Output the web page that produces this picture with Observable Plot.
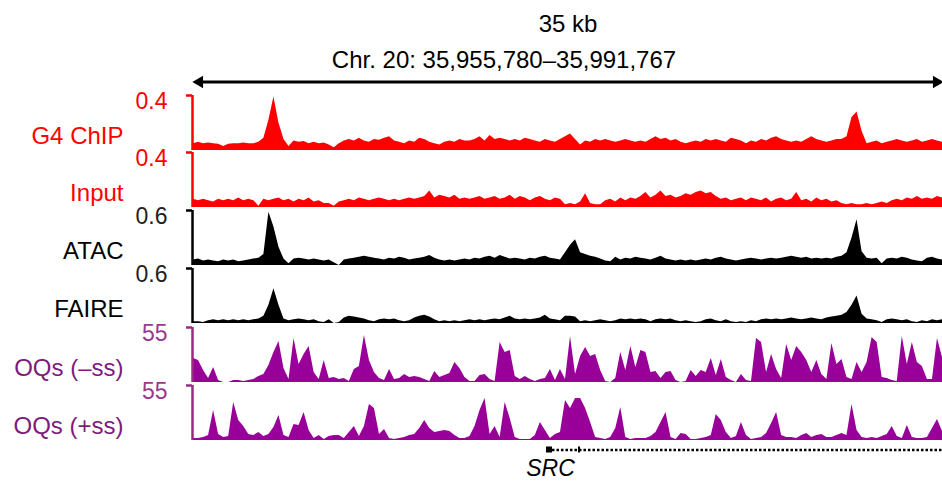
<!DOCTYPE html>
<html><head><meta charset="utf-8">
<script src="https://cdn.jsdelivr.net/npm/d3@7"></script>
<script src="https://cdn.jsdelivr.net/npm/@observablehq/plot@0.6"></script>
<style>
body{margin:0;background:#fff;}
#chart{position:relative;width:942px;height:481px;overflow:hidden;}
#chart svg{position:absolute;left:0;overflow:visible;background:transparent;}
</style></head><body><div id="chart"></div>
<script>
// ---- data ----
const regionStart = 35955780, regionEnd = 35991767;
const regionLabel = "Chr. 20: 35,955,780–35,991,767";
const spanLabel = "35 kb";
const trackNames = ["G4 ChIP", "Input", "ATAC", "FAIRE", "OQs (–ss)", "OQs (+ss)"];
const trackMax = [0.4, 0.4, 0.6, 0.6, 55, 55];
const trackMaxLabels = ["0.4", "0.4", "0.6", "0.6", "55", "55"];

const g4 = [0.05,0.06,0.05,0.055,0.05,0.045,0.03,0.045,0.05,0.05,0.055,0.05,0.05,
0.06,0.09,0.22,0.39,0.2,0.08,0.03,
0.07,0.06,0.065,0.05,0.06,0.05,0.055,0.04,0.02,
0.05,0.07,0.08,0.07,0.09,0.07,0.06,0.08,0.075,0.09,
0.1,0.07,0.06,0.05,0.07,0.06,0.09,0.08,0.06,0.05,0.04,
0.06,0.07,0.06,0.08,0.07,0.07,0.08,0.1,0.07,0.11,0.08,
0.09,0.08,0.07,0.08,0.07,0.09,0.08,0.07,0.06,0.08,0.07,0.06,0.08,
0.1,0.12,0.08,0.04,
0.07,0.06,0.08,0.07,0.08,0.07,0.06,0.07,0.08,0.07,0.06,0.07,0.06,
0.08,0.1,0.08,0.09,0.07,0.08,0.06,0.05,0.06,
0.07,0.06,0.08,0.07,0.08,0.07,0.06,0.09,0.08,0.07,0.05,
0.07,0.06,0.08,0.07,0.09,0.1,0.08,0.07,0.06,0.07,0.06,
0.08,0.1,0.08,0.07,0.06,0.07,0.08,
0.08,0.1,0.24,0.28,0.14,0.05,
0.06,0.07,0.05,0.06,0.07,0.08,0.07,0.06,0.07,0.08,0.06,0.07,0.08,0.07,0.06];

const input = [0.06,0.05,0.06,0.05,0.04,0.06,0.05,0.06,0.05,0.07,0.05,0.06,0.05,
0.01,
0.06,0.05,0.06,0.07,0.05,0.06,0.04,0.06,0.05,0.07,0.04,0.05,0.03,0.03,
0.01,
0.04,0.05,0.06,0.05,0.07,0.06,0.05,0.06,0.07,0.06,0.05,0.06,0.05,0.06,0.07,0.06,0.07,0.08,0.12,0.07,0.09,
0.08,0.07,0.09,0.06,0.07,0.06,0.07,0.08,0.06,0.07,0.08,0.06,0.07,0.09,0.06,0.08,0.07,0.05,0.07,0.08,0.06,0.05,0.07,0.06,
0.02,0.03,0.02,0.04,0.1,0.03,0.02,0.02,
0.05,0.06,0.04,0.07,0.05,0.07,0.06,0.08,0.11,
0.07,0.09,0.12,0.08,0.09,0.07,0.08,0.1,0.09,0.11,
0.12,0.1,0.11,0.08,0.06,0.07,0.05,0.06,0.07,
0.05,0.07,0.06,0.05,0.07,0.04,0.06,0.07,0.05,
0.06,0.11,0.05,0.06,0.04,0.07,
0.05,0.06,0.04,0.05,
0.03,0.02,0.03,0.02,0.02,0.03,0.02,0.03,0.04,
0.03,0.05,0.06,0.05,0.07,0.06,0.08,0.06,0.07,0.06,0.08,0.07];

const atac = [0.06,0.07,0.05,0.06,0.05,0.04,0.06,0.05,0.06,0.04,0.05,0.06,0.07,
0.08,0.12,0.58,0.42,0.2,0.07,0.02,
0.07,0.08,0.07,0.06,0.07,0.06,0.05,0.06,
0.03,0.0,
0.06,0.07,0.08,0.09,0.1,0.09,0.08,0.07,0.06,0.08,0.07,0.09,0.08,0.06,0.07,0.08,0.09,0.11,0.08,0.06,
0.05,0.06,0.05,0.06,0.07,0.06,0.08,0.07,0.09,0.1,0.08,0.11,0.09,0.07,0.08,0.07,0.06,0.08,0.07,0.09,0.1,0.08,0.07,0.06,
0.14,0.22,0.28,0.14,0.12,0.1,0.09,0.07,0.05,0.04,
0.09,0.06,0.08,0.07,0.09,0.08,0.07,0.06,0.08,0.1,0.07,0.06,0.05,0.06,0.05,0.06,
0.05,0.06,0.07,0.06,0.08,0.09,0.07,0.06,0.05,0.06,0.07,0.08,0.07,0.06,0.07,0.08,
0.07,0.08,0.09,0.1,0.09,0.08,0.09,0.07,0.08,0.07,0.08,0.07,
0.09,0.1,0.14,0.3,0.5,0.15,0.08,
0.07,0.08,0.02,0.07,0.08,0.07,0.09,0.08,0.06,0.05,0.04,0.08,0.09,0.07,0.06];

const faire = [0.02,0.02,0.01,0.03,0.04,0.03,0.04,0.03,0.04,0.03,0.04,0.03,0.04,
0.05,0.08,0.2,0.38,0.2,0.05,0.03,
0.04,0.05,0.04,0.03,0.04,0.02,0.01,0.04,
0.0,0.01,
0.06,0.08,0.07,0.06,0.05,0.03,0.02,0.04,0.05,0.04,0.05,0.03,0.02,0.03,0.06,0.08,0.09,0.07,0.04,0.02,
0.03,0.02,0.03,0.02,0.03,0.04,0.03,0.04,0.03,0.04,0.05,0.04,0.06,0.08,0.05,0.04,0.05,0.04,0.05,0.06,0.09,0.05,0.04,0.03,
0.08,0.08,0.07,0.02,0.03,0.02,0.03,0.04,0.03,0.02,0.03,0.05,0.04,0.05,0.04,0.05,0.04,0.02,0.04,0.05,0.04,0.05,0.03,0.02,0.03,0.02,
0.01,0.02,0.04,0.05,0.03,0.02,0.04,0.02,0.01,0.02,0.01,0.03,0.02,0.04,0.05,0.04,0.05,0.04,0.05,0.06,0.05,0.04,0.05,0.06,0.05,0.04,0.06,0.07,0.08,0.09,0.12,0.2,0.3,0.1,0.05,
0.04,0.03,0.01,0.04,0.05,0.04,0.03,0.04,0.02,0.01,0.03,0.02,0.04,0.03,0.04];

const oqsMinus = [24,22,12,4,15,2,0,0,2,2,1,2,3,6,8,17,30,41,14,3,
44,18,28,36,10,3,22,4,5,3,4,1,13,16,47,22,10,4,2,13,
3,4,8,5,6,5,3,1,11,5,7,9,20,14,5,1,1,7,8,3,
1,40,30,32,6,3,6,3,1,3,4,13,2,13,
3,46,8,26,35,26,28,12,1,0,4,30,12,36,15,32,30,10,11,4,
10,11,2,0,1,12,6,12,10,24,7,23,5,2,0,8,2,1,44,40,
10,28,13,4,38,22,36,30,22,10,22,8,3,39,18,23,5,3,20,10,
20,45,40,5,4,2,1,46,18,40,20,16,3,3,44,25];

const oqsPlus = [2,2,3,5,30,6,3,4,38,20,14,6,5,8,4,6,13,25,5,3,
16,15,28,10,2,5,1,4,5,5,2,8,14,4,14,36,32,6,11,2,
1,2,3,5,6,12,20,12,8,9,10,9,5,2,2,4,14,30,42,6,
14,3,38,22,3,1,1,1,5,18,10,2,6,8,
40,32,42,42,32,18,3,2,1,3,12,33,3,1,2,2,2,4,8,18,
28,3,1,7,6,1,1,2,3,5,26,20,8,2,4,18,5,1,2,3,
7,17,28,5,3,3,2,5,7,3,5,6,3,3,5,7,5,36,10,3,
2,3,2,4,6,14,4,2,15,3,2,2,3,12,21,9];

const geneName = "SRC";
const geneStart = 35972740;
const geneExons = [[35972740, 35973028], [35974278, 35974374]];

// ---- drawing ----
const FONT = "'Liberation Sans', Arial, Helvetica, sans-serif";
const chart = document.getElementById("chart");
const W = 942, ML = 193;
const xScale = {domain: [regionStart, regionEnd], axis: null};
const series = [g4, input, atac, faire, oqsMinus, oqsPlus];
const fills = ["#ff0000", "#ff0000", "#000000", "#000000", "#990099", "#990099"];
const nameColors = ["#ff0000", "#ff0000", "#000000", "#000000", "#7d1a7d", "#7d1a7d"];
const scaleColors = ["#ff0000", "#ff0000", "#222222", "#222222", "#9a3a8c", "#9a3a8c"];
const bracketColors = ["#ff0000", "#ff0000", "#000000", "#000000", "#9a2a82", "#9a2a82"];
const tops = [95, 152, 210, 268, 327, 385];
const H = 55;

function place(svg, top) { svg.style.top = top + "px"; chart.appendChild(svg); }

// header
const mid = (regionStart + regionEnd) / 2;
const ends = [{x: regionStart, r: -90, d: 6}, {x: regionEnd, r: 90, d: -6}];
const header = Plot.plot({
  width: W, height: 95, marginLeft: ML, marginRight: 0, marginTop: 0, marginBottom: 0,
  style: {fontFamily: FONT, overflow: "visible"},
  x: xScale, y: {type: "identity", axis: null},
  marks: [
    Plot.text([{x: mid, t: spanLabel}], {x: "x", text: "t", frameAnchor: "top", lineAnchor: "middle", dy: 24, fontSize: 24, fill: "black"}),
    Plot.text([{x: mid, t: regionLabel}], {x: "x", text: "t", frameAnchor: "top", lineAnchor: "middle", dy: 60, dx: -64, fontSize: 24, fill: "black"}),
    Plot.ruleY([{a: regionStart, b: regionEnd}], {x1: "a", x2: "b", y: 81.5, stroke: "black", strokeWidth: 3, insetLeft: 6, insetRight: 6}),
    Plot.dot(ends, {x: "x", y: 81.5, symbol: "triangle", rotate: "r", r: 4.6, fill: "black", stroke: "none"})
  ]
});
// shift each arrowhead so its tip sits on the region end
header.querySelectorAll("g[aria-label='dot'] path").forEach((p, i) => {
  const t = p.getAttribute("transform") || "";
  p.setAttribute("transform", `translate(${ends[i].d},0) ` + t);
});
place(header, 0);

series.forEach((vals, k) => {
  const n = vals.length;
  const data = vals.map((v, i) => ({x: regionStart + i * (regionEnd - regionStart) / (n - 1), v}));
  const svg = Plot.plot({
    width: W, height: H, marginLeft: ML, marginRight: 0, marginTop: 0, marginBottom: 0,
    style: {fontFamily: FONT, overflow: "visible"},
    x: xScale,
    y: {domain: [0, trackMax[k]], axis: null},
    marks: [
      Plot.areaY(data, {x: "x", y: "v", fill: fills[k], curve: "linear"}),
      Plot.ruleX([regionStart], {stroke: bracketColors[k], strokeWidth: 2.5, dx: -1}),
      Plot.ruleY([{y: trackMax[k], x: regionStart}], {y: "y", x1: "x", x2: "x", insetLeft: -6, stroke: bracketColors[k], strokeWidth: 2.5, dx: -1}),
      Plot.text([{v: trackMax[k], t: trackMaxLabels[k]}], {y: "v", text: "t", frameAnchor: "left", lineAnchor: "middle", dx: -26, dy: 6, textAnchor: "end", fill: scaleColors[k], fontSize: 23}),
      Plot.text([trackNames[k]], {text: d => d, frameAnchor: "bottom-left", lineAnchor: "middle", dx: -70, dy: -14, textAnchor: "end", fill: nameColors[k], fontSize: 24})
    ]
  });
  place(svg, tops[k]);
});

// gene track
const gene = Plot.plot({
  width: W, height: 41, marginLeft: ML, marginRight: 0, marginTop: 0, marginBottom: 0,
  style: {fontFamily: FONT, overflow: "visible"},
  x: xScale, y: {type: "identity", axis: null},
  marks: [
    Plot.ruleY([{a: geneExons[0][1], b: regionEnd}], {x1: "a", x2: "b", y: 9.5, stroke: "black", strokeWidth: 2.5, strokeDasharray: "2.5,2"}),
    Plot.rect(geneExons, {x1: d => d[0], x2: d => d[1], y1: 6.5, y2: 12.5, fill: "black"}),
    Plot.text([{x: geneStart, t: geneName}], {x: "x", text: "t", y: 28, dx: 4, fontSize: 23, fontStyle: "italic", fill: "black"})
  ]
});
place(gene, 440);
</script></body></html>
